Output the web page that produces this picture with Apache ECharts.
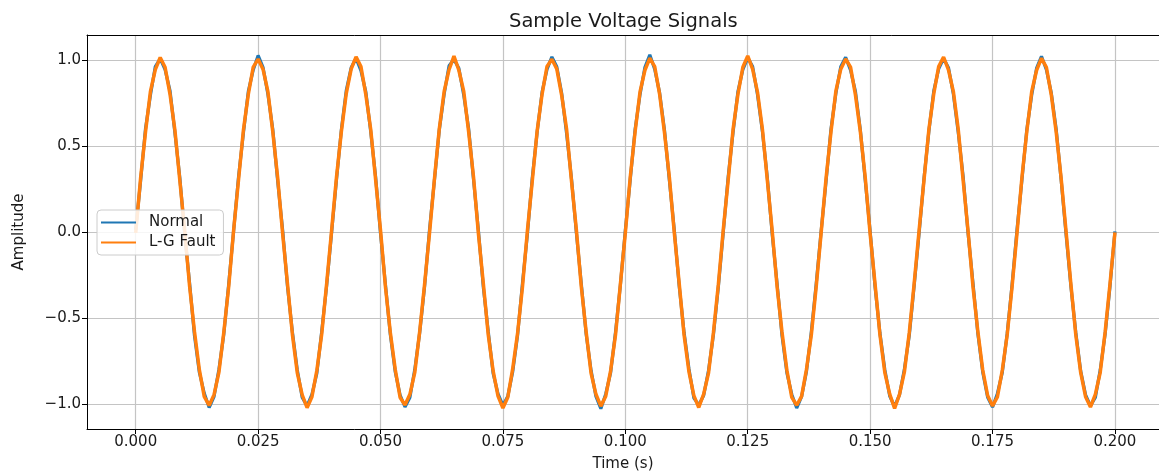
<!DOCTYPE html>
<html>
<head>
<meta charset="utf-8">
<script src="https://cdn.jsdelivr.net/npm/echarts@6/dist/echarts.min.js"></script>
<style>
html,body{margin:0;padding:0;background:#fff;}
#chart{width:1159px;height:472px;}
</style>
</head>
<body>
<div id="chart"></div>
<script>
const times = [
0.000,0.001,0.002,0.003,0.004,0.005,0.006,0.007,0.008,0.009,0.010,0.011,0.012,0.013,0.014,0.015,0.016,0.017,0.018,0.019,
0.020,0.021,0.022,0.023,0.024,0.025,0.026,0.027,0.028,0.029,0.030,0.031,0.032,0.033,0.034,0.035,0.036,0.037,0.038,0.039,
0.040,0.041,0.042,0.043,0.044,0.045,0.046,0.047,0.048,0.049,0.050,0.051,0.052,0.053,0.054,0.055,0.056,0.057,0.058,0.059,
0.060,0.061,0.062,0.063,0.064,0.065,0.066,0.067,0.068,0.069,0.070,0.071,0.072,0.073,0.074,0.075,0.076,0.077,0.078,0.079,
0.080,0.081,0.082,0.083,0.084,0.085,0.086,0.087,0.088,0.089,0.090,0.091,0.092,0.093,0.094,0.095,0.096,0.097,0.098,0.099,
0.100,0.101,0.102,0.103,0.104,0.105,0.106,0.107,0.108,0.109,0.110,0.111,0.112,0.113,0.114,0.115,0.116,0.117,0.118,0.119,
0.120,0.121,0.122,0.123,0.124,0.125,0.126,0.127,0.128,0.129,0.130,0.131,0.132,0.133,0.134,0.135,0.136,0.137,0.138,0.139,
0.140,0.141,0.142,0.143,0.144,0.145,0.146,0.147,0.148,0.149,0.150,0.151,0.152,0.153,0.154,0.155,0.156,0.157,0.158,0.159,
0.160,0.161,0.162,0.163,0.164,0.165,0.166,0.167,0.168,0.169,0.170,0.171,0.172,0.173,0.174,0.175,0.176,0.177,0.178,0.179,
0.180,0.181,0.182,0.183,0.184,0.185,0.186,0.187,0.188,0.189,0.190,0.191,0.192,0.193,0.194,0.195,0.196,0.197,0.198,0.199,
0.200
];
const normal = [
0.012,0.297,0.601,0.795,0.962,1.008,0.944,0.823,0.579,0.318,-0.011,-0.296,-0.602,-0.817,-0.938,-1.021,-0.957,-0.798,-0.593,-0.301,
0.008,0.321,0.577,0.818,0.943,1.027,0.958,0.801,0.596,0.295,0.014,-0.318,-0.581,-0.803,-0.962,-1.012,-0.944,-0.821,-0.575,-0.312,
-0.006,0.302,0.594,0.822,0.955,1.011,0.939,0.815,0.583,0.321,-0.009,-0.305,-0.597,-0.812,-0.949,-1.018,-0.963,-0.799,-0.586,-0.317,
0.011,0.298,0.592,0.803,0.967,1.004,0.952,0.796,0.601,0.303,0.006,-0.322,-0.579,-0.822,-0.941,-1.009,-0.955,-0.813,-0.599,-0.296,
-0.013,0.316,0.583,0.814,0.946,1.019,0.961,0.807,0.574,0.312,-0.004,-0.299,-0.594,-0.805,-0.957,-1.028,-0.942,-0.818,-0.582,-0.306,
0.009,0.304,0.597,0.799,0.958,1.031,0.947,0.811,0.592,0.299,0.012,-0.313,-0.585,-0.797,-0.966,-1.006,-0.951,-0.804,-0.597,-0.319,
-0.004,0.319,0.579,0.817,0.944,1.013,0.963,0.798,0.585,0.316,-0.013,-0.302,-0.603,-0.819,-0.945,-1.024,-0.958,-0.811,-0.578,-0.298,
0.007,0.295,0.598,0.806,0.961,1.016,0.941,0.818,0.594,0.301,0.005,-0.317,-0.588,-0.801,-0.954,-1.015,-0.948,-0.797,-0.601,-0.311,
-0.010,0.311,0.586,0.821,0.949,1.009,0.956,0.803,0.578,0.322,-0.007,-0.294,-0.591,-0.815,-0.961,-1.019,-0.939,-0.816,-0.589,-0.303,
0.013,0.302,0.595,0.797,0.953,1.022,0.944,0.809,0.598,0.307,-0.008,-0.315,-0.583,-0.808,-0.947,-1.011,-0.962,-0.802,-0.594,-0.314,
0.004
];
const fault = [
-0.005,0.314,0.582,0.816,0.945,1.015,0.958,0.802,0.594,0.302,0.009,-0.315,-0.579,-0.802,-0.958,-1.009,-0.946,-0.815,-0.581,-0.316,
0.011,0.303,0.594,0.801,0.959,1.006,0.947,0.816,0.581,0.314,-0.008,-0.302,-0.596,-0.819,-0.947,-1.022,-0.958,-0.804,-0.592,-0.299,
0.006,0.317,0.583,0.805,0.948,1.019,0.962,0.799,0.597,0.304,0.011,-0.318,-0.584,-0.799,-0.963,-1.006,-0.944,-0.817,-0.579,-0.304,
-0.009,0.305,0.599,0.818,0.944,1.023,0.941,0.818,0.582,0.319,-0.012,-0.299,-0.598,-0.808,-0.955,-1.024,-0.961,-0.795,-0.587,-0.318,
0.008,0.297,0.591,0.802,0.963,1.005,0.949,0.795,0.599,0.298,0.013,-0.316,-0.582,-0.821,-0.944,-1.013,-0.955,-0.806,-0.598,-0.301,
-0.007,0.318,0.584,0.815,0.941,1.012,0.962,0.802,0.577,0.317,-0.005,-0.298,-0.599,-0.814,-0.952,-1.021,-0.943,-0.819,-0.583,-0.305,
0.012,0.299,0.596,0.801,0.958,1.024,0.948,0.813,0.598,0.302,0.007,-0.319,-0.582,-0.804,-0.962,-1.008,-0.956,-0.799,-0.596,-0.314,
-0.003,0.313,0.581,0.819,0.947,1.007,0.959,0.797,0.583,0.318,-0.011,-0.301,-0.597,-0.818,-0.943,-1.027,-0.945,-0.814,-0.584,-0.297,
0.009,0.301,0.597,0.804,0.962,1.018,0.943,0.817,0.596,0.299,0.006,-0.317,-0.578,-0.803,-0.951,-1.012,-0.959,-0.803,-0.597,-0.316,
-0.006,0.316,0.584,0.816,0.941,1.011,0.958,0.798,0.581,0.316,0.009,-0.302,-0.597,-0.817,-0.958,-1.018,-0.944,-0.816,-0.582,-0.299,
-0.002
];
const seriesNames = ['Normal', 'L-G Fault'];
const xTicks = [0, 0.025, 0.05, 0.075, 0.1, 0.125, 0.15, 0.175, 0.2];
const xTickLabels = ['0.000','0.025','0.050','0.075','0.100','0.125','0.150','0.175','0.200'];
const yTicks = [-1, -0.5, 0, 0.5, 1];
const yTickLabels = ['\u22121.0','\u22120.5','0.0','0.5','1.0'];

const FONT = 'DejaVu Sans';
const TXT = '#1a1a1a';
const chart = echarts.init(document.getElementById('chart'), null, {renderer: 'canvas'});
const pairs = vals => times.map((t, i) => [t, vals[i]]);

chart.setOption({
  animation: false,
  backgroundColor: '#ffffff',
  title: {
    text: 'Sample Voltage Signals',
    left: 504, top: 7,
    textStyle: {fontFamily: FONT, fontSize: 19.5, fontWeight: 'normal', color: TXT}
  },
  grid: {left: 87, top: 35, bottom: 43, right: 0, containLabel: false, outerBoundsMode: 'none'},
  legend: {
    orient: 'vertical',
    left: 97, top: 210,
    padding: [5, 8, 5, 4],
    itemGap: 5,
    itemWidth: 35, itemHeight: 2,
    icon: 'rect',
    backgroundColor: 'rgba(255,255,255,0.85)',
    borderColor: '#cccccc', borderWidth: 1, borderRadius: 4,
    textStyle: {fontFamily: FONT, fontSize: 15, color: TXT, padding: [0, 0, 0, 8]},
    data: seriesNames
  },
  xAxis: [{
    type: 'value', min: -0.00995, max: 0.209,
    name: 'Time (s)', nameLocation: 'middle', nameGap: 28,
    nameTextStyle: {fontFamily: FONT, fontSize: 15, color: TXT},
    axisLine: {show: true, onZero: false, lineStyle: {color: '#000', width: 1}},
    axisTick: {show: true, inside: false, length: 5, lineStyle: {color: '#000'}, customValues: xTicks},
    axisLabel: {fontFamily: FONT, fontSize: 15, color: TXT, margin: 6, customValues: xTicks,
      formatter: v => xTickLabels[xTicks.findIndex(t => Math.abs(t - v) < 1e-9)] ?? ''},
    splitLine: {show: true, lineStyle: {color: '#c4c4c4', width: 1.2}}
  }, {
    type: 'value', min: -0.00995, max: 0.209, position: 'top',
    axisLine: {show: true, onZero: false, lineStyle: {color: '#000', width: 1}},
    axisTick: {show: false}, axisLabel: {show: false}, splitLine: {show: false}
  }],
  yAxis: {
    type: 'value', min: -1.146, max: 1.146,
    name: 'Amplitude', nameLocation: 'middle', nameGap: 60, nameRotate: 90,
    nameTextStyle: {fontFamily: FONT, fontSize: 15, color: TXT},
    axisLine: {show: true, onZero: false, lineStyle: {color: '#000', width: 1}},
    axisTick: {show: true, inside: false, length: 5, lineStyle: {color: '#000'}, customValues: yTicks},
    axisLabel: {fontFamily: FONT, fontSize: 15, color: TXT, margin: 6, customValues: yTicks,
      formatter: v => yTickLabels[yTicks.findIndex(t => Math.abs(t - v) < 1e-9)] ?? ''},
    splitLine: {show: true, lineStyle: {color: '#c4c4c4', width: 1.2}}
  },
  series: [{
    name: seriesNames[0], type: 'line', data: pairs(normal),
    showSymbol: false, symbol: 'none',
    lineStyle: {color: '#1f77b4', width: 3.2}, itemStyle: {color: '#1f77b4'}
  }, {
    name: seriesNames[1], type: 'line', data: pairs(fault),
    showSymbol: false, symbol: 'none',
    lineStyle: {color: '#ff7f0e', width: 3.5}, itemStyle: {color: '#ff7f0e'}
  }]
});
</script>
</body>
</html>
